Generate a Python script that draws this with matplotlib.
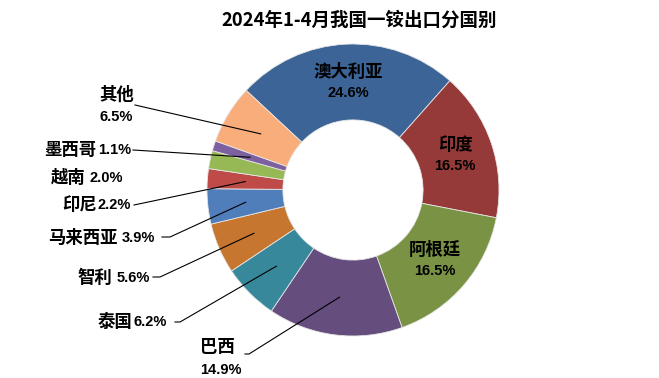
import numpy as np
import matplotlib.pyplot as plt

plt.rcParams['font.family'] = ['Noto Sans CJK SC', 'DejaVu Sans']

# 数据
countries = ['澳大利亚', '印度', '阿根廷', '巴西', '泰国', '智利', '马来西亚', '印尼', '越南', '墨西哥', '其他']
shares = [24.6, 16.5, 16.5, 14.9, 6.2, 5.6, 3.9, 2.2, 2.0, 1.1, 6.5]
colors = ['#3C6496', '#953A38', '#799244', '#654D7E', '#37889A', '#C6762F',
          '#4F7EBB', '#BE4B48', '#97B955', '#7D60A0', '#F9AD7A']

W, H = 659, 378
CX, CY, R = 353, 190, 146


def px(x, y):
    # 像素坐标 -> 数据坐标 (圆心为原点, 外半径为1)
    return (x - CX) / R, (CY - y) / R


fig = plt.figure(figsize=(W / 100, H / 100), dpi=100)
ax = fig.add_axes([0, 0, 1, 1])
wedges, _ = ax.pie(shares, colors=colors, startangle=137, counterclock=False,
                   radius=1.0, wedgeprops=dict(width=0.52, edgecolor='#e6e6e6', linewidth=0.6))
ax.set_xlim(-CX / R, (W - CX) / R)
ax.set_ylim(-(H - CY) / R, CY / R)
ax.set_aspect('equal')
ax.axis('off')

mid_r = 1 - 0.52 / 2


def anchor(i):
    w = wedges[i]
    a = np.deg2rad((w.theta1 + w.theta2) / 2)
    return mid_r * np.cos(a), mid_r * np.sin(a)


name_font = dict(fontsize=12.5, fontweight='bold', color='black')
pct_font = dict(fontsize=10.5, fontweight='bold', family=['Liberation Sans', 'DejaVu Sans'])

# 环内标签
for i in range(3):
    x, y = anchor(i)
    ax.text(x, y + 0.07, countries[i], ha='center', va='center', **name_font)
    ax.text(x, y - 0.075, f'{shares[i]}%', ha='center', va='center', **pct_font)

# 环外标签: 名称右端, 百分比左端, y, 引线起点, 折点
outside = {
    '墨西哥': (96, 98, 150, (133, 150), None),
    '越南': (86, 90, 178, None, None),
    '印尼': (97, 98, 205, (134, 205), None),
    '马来西亚': (118, 122, 238, (162, 237), (170, 237)),
    '智利': (112, 117, 278, (153, 277), (160, 277)),
    '泰国': (132, 133, 322, (175, 322), (180, 322)),
}
for name, (nx, pxl, y, start, elbow) in outside.items():
    i = countries.index(name)
    ax.text(*px(nx, y), name, ha='right', va='center', **name_font)
    ax.text(*px(pxl, y), f'{shares[i]}%', ha='left', va='center', **pct_font)
    if start is not None:
        pts = [px(*start)]
        if elbow is not None:
            pts.append(px(*elbow))
        pts.append(anchor(i))
        xs, ys = zip(*pts)
        ax.plot(xs, ys, color='black', lw=0.8)

# 其他
i = countries.index('其他')
ax.text(*px(99, 95), '其他', ha='left', va='center', **name_font)
ax.text(*px(100, 117), f'{shares[i]}%', ha='left', va='center', **pct_font)
xs, ys = zip(px(135, 105), anchor(i))
ax.plot(xs, ys, color='black', lw=0.8)

# 巴西
i = countries.index('巴西')
ax.text(*px(200, 347), '巴西', ha='left', va='center', **name_font)
ax.text(*px(200, 370), f'{shares[i]}%', ha='left', va='center', **pct_font)
xs, ys = zip(px(245, 354), px(249, 354), anchor(i))
ax.plot(xs, ys, color='black', lw=0.8)

ax.text(*px(359, 20), '2024年1-4月我国一铵出口分国别', ha='center', va='center',
        fontsize=13.3, fontweight='bold')

fig.savefig('out.png', dpi=100)
